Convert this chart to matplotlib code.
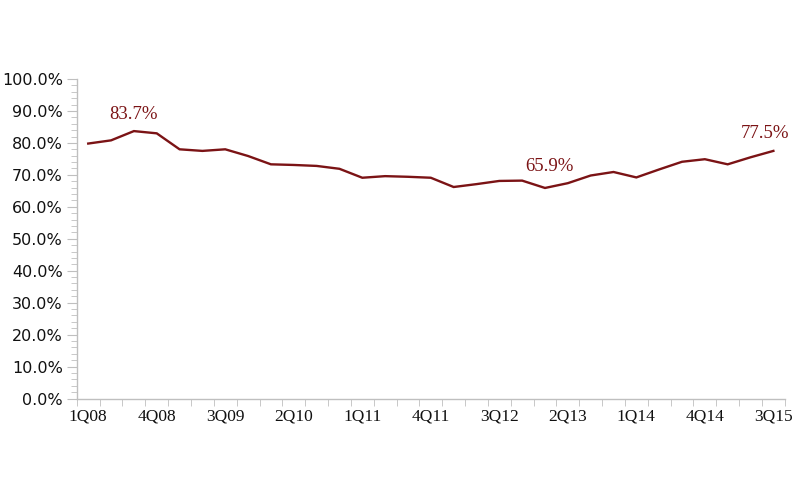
import matplotlib
matplotlib.use("Agg")
import matplotlib.pyplot as plt
from matplotlib.ticker import MultipleLocator, FuncFormatter, FixedLocator

quarters = []
for yr in range(8, 16):
    for q in range(1, 5):
        quarters.append(f"{q}Q{yr:02d}")
quarters = quarters[:31]

values = [79.8, 80.8, 83.7, 83.0, 78.0, 77.5, 78.0, 75.9, 73.3, 73.1, 72.8, 71.9,
          69.1, 69.6, 69.4, 69.1, 66.2, 67.1, 68.1, 68.2, 65.9, 67.4, 69.8, 70.9,
          69.2, 71.7, 74.1, 74.9, 73.3, 75.5, 77.5]

labeled = {2: "83.7%", 20: "65.9%", 30: "77.5%"}
label_offsets = {2: (0, 12), 20: (3, 15.8), 30: (-5.8, 12.5)}

color = "#7B1315"

fig = plt.figure(figsize=(8, 4.92), dpi=100)
ax = fig.add_axes([0.096, 0.19, 0.885, 0.6494])

x = list(range(len(values)))
ax.plot(x, [v / 100 for v in values], color=color, lw=1.7, solid_joinstyle="miter")

for i, txt in labeled.items():
    ax.annotate(txt, (i, values[i] / 100), xytext=label_offsets[i], textcoords="offset points",
                ha="center", va="center", color=color, fontsize=13.5, family="Liberation Serif")

ax.set_xlim(-0.5, len(values) - 0.5)
ax.set_ylim(0, 1.0)

ax.yaxis.set_major_locator(MultipleLocator(0.1))
ax.yaxis.set_minor_locator(MultipleLocator(0.02))
ax.yaxis.set_major_formatter(FuncFormatter(lambda v, p: f"{v*100:.1f}%"))

ax.xaxis.set_major_locator(FixedLocator([i for i in range(0, len(values), 3)]))
ax.set_xticklabels([quarters[i] for i in range(0, len(values), 3)])
ax.xaxis.set_minor_locator(FixedLocator([i - 0.5 for i in range(len(values) + 1)]))

for s in ["top", "right"]:
    ax.spines[s].set_visible(False)
for s in ["left", "bottom"]:
    ax.spines[s].set_color("#BFBFBF")
    ax.spines[s].set_linewidth(1.0)

ax.tick_params(axis="y", which="major", length=7, color="#BFBFBF", labelsize=11.5,
               labelcolor="#111111", pad=3)
ax.tick_params(axis="y", which="minor", length=4, color="#BFBFBF")
ax.tick_params(axis="x", which="major", length=0, labelsize=12.5, labelcolor="#111111", pad=7)
ax.tick_params(axis="x", which="minor", length=5, color="#BFBFBF")

for lab in ax.get_yticklabels():
    lab.set_family("DejaVu Sans")
for lab in ax.get_xticklabels():
    lab.set_family("Liberation Serif")

fig.savefig("out.png", dpi=100)
